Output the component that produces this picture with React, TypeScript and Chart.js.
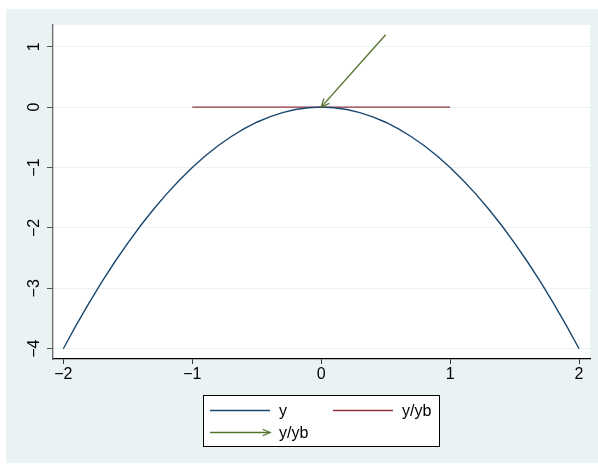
import React, { useEffect, useRef } from "react";
import { Chart, registerables } from "chart.js";

Chart.register(...registerables);

const curveX = [-2, -1.9, -1.8, -1.7, -1.6, -1.5, -1.4, -1.3, -1.2, -1.1, -1, -0.9, -0.8, -0.7, -0.6, -0.5, -0.4, -0.3, -0.2, -0.1, 0, 0.1, 0.2, 0.3, 0.4, 0.5, 0.6, 0.7, 0.8, 0.9, 1, 1.1, 1.2, 1.3, 1.4, 1.5, 1.6, 1.7, 1.8, 1.9, 2];
const curveY = [-4, -3.61, -3.24, -2.89, -2.56, -2.25, -1.96, -1.69, -1.44, -1.21, -1, -0.81, -0.64, -0.49, -0.36, -0.25, -0.16, -0.09, -0.04, -0.01, 0, -0.01, -0.04, -0.09, -0.16, -0.25, -0.36, -0.49, -0.64, -0.81, -1, -1.21, -1.44, -1.69, -1.96, -2.25, -2.56, -2.89, -3.24, -3.61, -4];
const flatX = [-1, 1];
const flatY = [0, 0];
const arrowX = [0.5, 0];
const arrowY = [1.2, 0];
const xTicks = [-2, -1, 0, 1, 2];
const yTicks = [-4, -3, -2, -1, 0, 1];
const seriesLabels = ["y", "y/yb", "y/yb"];

const BLUE = "#1A476F";
const RED = "#90353B";
const GREEN = "#55752F";
const BG = "#EAF2F3";
const FONT = "'Liberation Sans', Arial, sans-serif";

const fmt = (v: number) => (v < 0 ? "\u2212" + Math.abs(v) : String(v));

function drawArrowHead(ctx: CanvasRenderingContext2D, fx: number, fy: number, tx: number, ty: number, len: number, color: string) {
  const ang = Math.atan2(ty - fy, tx - fx);
  const spread = 0.42;
  ctx.save();
  ctx.strokeStyle = color;
  ctx.lineWidth = 1.3;
  ctx.beginPath();
  ctx.moveTo(tx - len * Math.cos(ang - spread), ty - len * Math.sin(ang - spread));
  ctx.lineTo(tx, ty);
  ctx.lineTo(tx - len * Math.cos(ang + spread), ty - len * Math.sin(ang + spread));
  ctx.stroke();
  ctx.restore();
}

const stataPlugin = {
  id: "stata",
  beforeDraw(chart: any) {
    const ctx = chart.ctx;
    const a = chart.chartArea;
    ctx.save();
    ctx.fillStyle = "#ffffff";
    ctx.fillRect(0, 0, chart.width, chart.height);
    ctx.fillStyle = BG;
    ctx.fillRect(6, 9, chart.width - 6, chart.height - 10);
    ctx.fillStyle = "#ffffff";
    ctx.fillRect(a.left, a.top, a.right - a.left, a.bottom - a.top);
    ctx.restore();
  },
  afterDraw(chart: any) {
    const ctx = chart.ctx;
    const xs = chart.scales.x;
    const ys = chart.scales.y;
    const a = chart.chartArea;
    // y tick labels, rotated
    ctx.save();
    ctx.fillStyle = "#000";
    ctx.font = "16px " + FONT;
    ctx.textAlign = "center";
    ctx.textBaseline = "alphabetic";
    for (const v of yTicks) {
      const py = ys.getPixelForValue(v);
      ctx.save();
      ctx.translate(a.left - 14.5, py);
      ctx.rotate(-Math.PI / 2);
      ctx.fillText(fmt(v), 0, 0);
      ctx.restore();
    }
    ctx.restore();
    // arrow head
    const ax0 = xs.getPixelForValue(arrowX[0]);
    const ay0 = ys.getPixelForValue(arrowY[0]);
    const ax1 = xs.getPixelForValue(arrowX[1]);
    const ay1 = ys.getPixelForValue(arrowY[1]);
    drawArrowHead(ctx, ax0, ay0, ax1, ay1, 9, GREEN);
    // legend
    const lx = 203, ly = 395, lw = 236, lh = 51;
    ctx.save();
    ctx.fillStyle = "#fff";
    ctx.fillRect(lx, ly, lw, lh);
    ctx.strokeStyle = "#000";
    ctx.lineWidth = 1;
    ctx.strokeRect(lx + 0.5, ly + 0.5, lw, lh);
    ctx.font = "16px " + FONT;
    ctx.fillStyle = "#000";
    ctx.textBaseline = "middle";
    ctx.textAlign = "left";
    const ds = chart.data.datasets;
    const items = [
      { x: lx + 7, y: ly + 15.5, i: 0 },
      { x: lx + 130, y: ly + 15.5, i: 1 },
      { x: lx + 7, y: ly + 37.5, i: 2 },
    ];
    for (const it of items) {
      const d = ds[it.i];
      ctx.strokeStyle = d.borderColor;
      ctx.lineWidth = 1.3;
      ctx.beginPath();
      ctx.moveTo(it.x, it.y);
      ctx.lineTo(it.x + 60, it.y);
      ctx.stroke();
      if (it.i === 2) drawArrowHead(ctx, it.x, it.y, it.x + 60, it.y, 8, GREEN);
      ctx.fillText(d.label, it.x + 69, it.y + 1);
    }
    ctx.restore();
  },
};

export default function App() {
  const ref = useRef<HTMLCanvasElement>(null);
  useEffect(() => {
    if (!ref.current) return;
    const mk = (xa: number[], ya: number[]) => xa.map((x, i) => ({ x, y: ya[i] }));
    const chart = new Chart(ref.current, {
      type: "scatter",
      data: {
        datasets: [
          { label: seriesLabels[0], data: mk(curveX, curveY), borderColor: BLUE, backgroundColor: BLUE, showLine: true, pointRadius: 0, borderWidth: 1.4 },
          { label: seriesLabels[1], data: mk(flatX, flatY), borderColor: RED, backgroundColor: RED, showLine: true, pointRadius: 0, borderWidth: 1.4 },
          { label: seriesLabels[2], data: mk(arrowX, arrowY), borderColor: GREEN, backgroundColor: GREEN, showLine: true, pointRadius: 0, borderWidth: 1.4 },
        ],
      },
      options: {
        responsive: false,
        animation: false,
        devicePixelRatio: 1,
        layout: { padding: { left: 0, right: 8, top: 25, bottom: 0 } },
        plugins: { legend: { display: false }, tooltip: { enabled: false } },
        scales: {
          x: {
            type: "linear",
            min: -2.08,
            max: 2.085,
            afterBuildTicks: (s: any) => { s.ticks = xTicks.map((v) => ({ value: v })); },
            afterFit: (s: any) => { s.height = 105; },
            grid: { drawOnChartArea: false, drawTicks: true, tickLength: 5, tickColor: "#333", tickWidth: 1 },
            border: { color: "#000", width: 1.3 },
            ticks: { color: "#000", font: { family: FONT, size: 16 }, padding: 1, maxRotation: 0, minRotation: 0, callback: (v: any) => fmt(Number(v)) },
          },
          y: {
            type: "linear",
            min: -4.17,
            max: 1.36,
            afterBuildTicks: (s: any) => { s.ticks = yTicks.map((v) => ({ value: v })); },
            afterFit: (s: any) => { s.width = 53; },
            grid: { color: BG, lineWidth: 1, drawTicks: true, tickLength: 6, tickColor: "#555", tickWidth: 1 },
            border: { color: "#666", width: 1.3 },
            ticks: { display: false },
          },
        },
      },
      plugins: [stataPlugin],
    } as any);
    return () => chart.destroy();
  }, []);
  return (
    <div style={{ position: "fixed", left: 0, top: 0, width: 598, height: 464 }}>
      <canvas ref={ref} width={598} height={464} style={{ display: "block" }} />
    </div>
  );
}
